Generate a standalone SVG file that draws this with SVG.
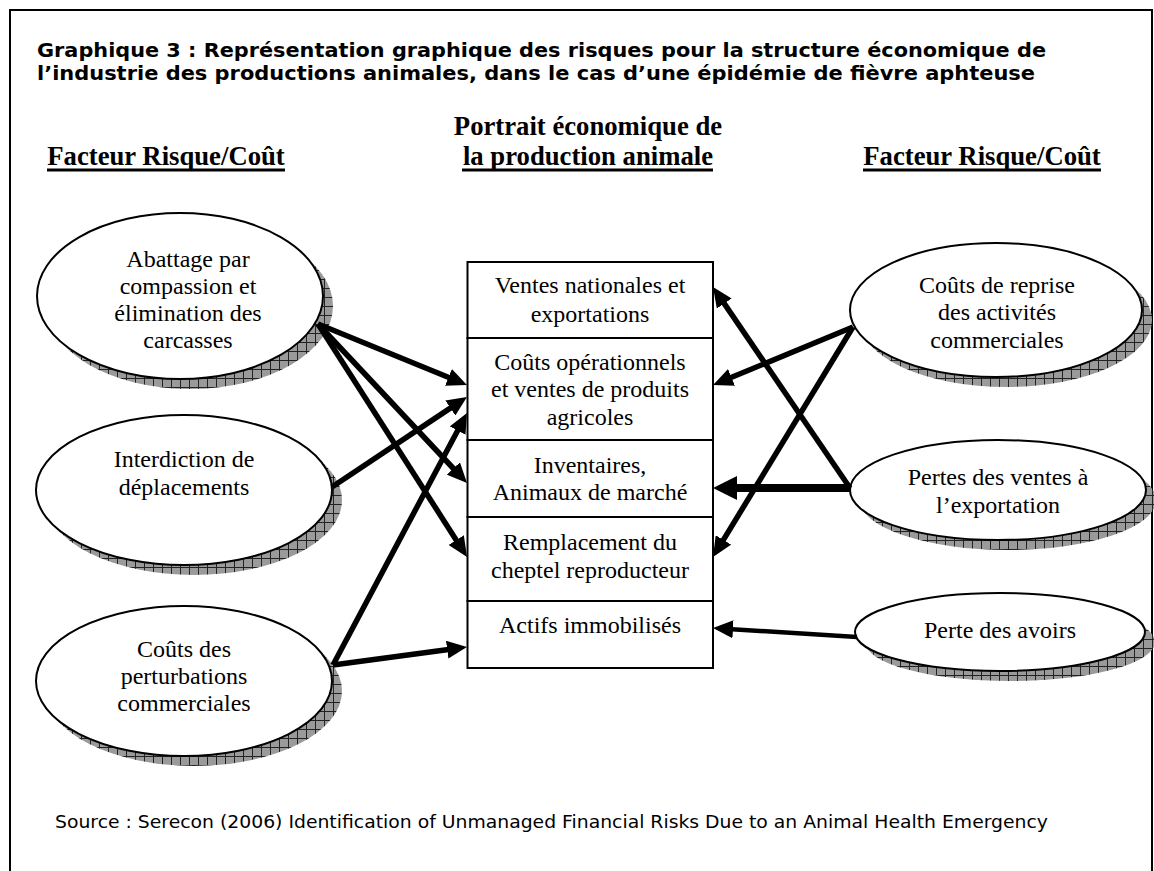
<svg xmlns="http://www.w3.org/2000/svg" width="1154" height="871" viewBox="0 0 1154 871">
<style>
.title{font-family:"DejaVu Sans","Verdana",sans-serif;font-weight:bold;font-size:19.5px;fill:#000}
.src{font-family:"DejaVu Sans","Verdana",sans-serif;font-size:17px;fill:#000}
.hdr{font-family:"Liberation Serif","Times New Roman",serif;font-weight:bold;font-size:26.7px;fill:#000;text-anchor:middle}
.lbl{font-family:"Liberation Serif","Times New Roman",serif;font-size:24px;fill:#000;text-anchor:middle}
.ell{fill:#fff;stroke:#000;stroke-width:2}
.shd{fill:url(#hatch);stroke:none}
.box{fill:#fff;stroke:#000;stroke-width:2}
.ul{stroke:#000;stroke-width:3}
.con{stroke:#000;stroke-width:5.5;fill:none;marker-end:url(#ah)}
.thick{stroke-width:8;marker-end:url(#ahL)}
.thin{stroke-width:4.5}
</style>
<defs>
<pattern id="hatch" width="9" height="9" patternUnits="userSpaceOnUse">
<rect width="9" height="9" fill="#9a9a9a"/>
<path d="M0,0.5H9M0.5,0V9" stroke="#222" stroke-width="1"/>
</pattern>
<marker id="ah" markerUnits="userSpaceOnUse" markerWidth="22" markerHeight="18" refX="9" refY="9" orient="auto" viewBox="0 0 22 18">
<path d="M0,0 L20,9 L0,18 z" fill="#000"/>
</marker>
<marker id="ahL" markerUnits="userSpaceOnUse" markerWidth="26" markerHeight="24" refX="12" refY="12" orient="auto" viewBox="0 0 26 24">
<path d="M0,0 L24,12 L0,24 z" fill="#000"/>
</marker>
</defs>

<rect width="1154" height="871" fill="#fff"/>
<path d="M10,880 V10 H1152 V880" fill="none" stroke="#000" stroke-width="2"/>

<g id="title">
<text class="title" x="37" y="57" textLength="1009" lengthAdjust="spacingAndGlyphs">Graphique 3 : Représentation graphique des risques pour la structure économique de</text>
<text class="title" x="37" y="80" textLength="998" lengthAdjust="spacingAndGlyphs">l’industrie des productions animales, dans le cas d’une épidémie de fièvre aphteuse</text>
</g>

<g id="headers">
<text class="hdr" x="166" y="165">Facteur Risque/Coût</text>
<line class="ul" x1="47" y1="170" x2="285" y2="170"/>
<text class="hdr" x="588" y="135">Portrait économique de</text>
<text class="hdr" x="588" y="165">la production animale</text>
<line class="ul" x1="462" y1="170" x2="713" y2="170"/>
<text class="hdr" x="982" y="165">Facteur Risque/Coût</text>
<line class="ul" x1="863" y1="170" x2="1101" y2="170"/>
</g>

<g id="node-abattage">
<ellipse class="shd" cx="190" cy="306" rx="143" ry="83"/>
<ellipse class="ell" cx="180" cy="296" rx="143" ry="83"/>
<text class="lbl" x="188" y="267">Abattage par</text>
<text class="lbl" x="188" y="294">compassion et</text>
<text class="lbl" x="188" y="321">élimination des</text>
<text class="lbl" x="188" y="348">carcasses</text>
</g>

<g id="node-interdiction">
<ellipse class="shd" cx="194" cy="500" rx="148" ry="75"/>
<ellipse class="ell" cx="184" cy="490" rx="148" ry="75"/>
<text class="lbl" x="184" y="467">Interdiction de</text>
<text class="lbl" x="184" y="495">déplacements</text>
</g>

<g id="node-perturbations">
<ellipse class="shd" cx="194" cy="691" rx="148" ry="75"/>
<ellipse class="ell" cx="184" cy="681" rx="148" ry="75"/>
<text class="lbl" x="184" y="657">Coûts des</text>
<text class="lbl" x="184" y="684">perturbations</text>
<text class="lbl" x="184" y="711">commerciales</text>
</g>

<g id="node-reprise">
<ellipse class="shd" cx="1006" cy="320" rx="146" ry="67"/>
<ellipse class="ell" cx="996" cy="310" rx="146" ry="67"/>
<text class="lbl" x="997" y="293">Coûts de reprise</text>
<text class="lbl" x="997" y="320">des activités</text>
<text class="lbl" x="997" y="348">commerciales</text>
</g>

<g id="node-pertes-ventes">
<ellipse class="shd" cx="1008" cy="500" rx="148" ry="50"/>
<ellipse class="ell" cx="998" cy="490" rx="148" ry="50"/>
<text class="lbl" x="998" y="485">Pertes des ventes à</text>
<text class="lbl" x="998" y="513">l’exportation</text>
</g>

<g id="node-avoirs">
<ellipse class="shd" cx="1010" cy="642" rx="145" ry="39"/>
<ellipse class="ell" cx="1000" cy="632" rx="145" ry="39"/>
<text class="lbl" x="1000" y="638">Perte des avoirs</text>
</g>

<g id="node-portrait">
<rect class="box" x="467.5" y="262" width="245.5" height="76"/>
<text class="lbl" x="590" y="293">Ventes nationales et</text>
<text class="lbl" x="590" y="322">exportations</text>
<rect class="box" x="467.5" y="338" width="245.5" height="102"/>
<text class="lbl" x="590" y="370">Coûts opérationnels</text>
<text class="lbl" x="590" y="397">et ventes de produits</text>
<text class="lbl" x="590" y="425">agricoles</text>
<rect class="box" x="467.5" y="440" width="245.5" height="77"/>
<text class="lbl" x="590" y="473">Inventaires,</text>
<text class="lbl" x="590" y="500">Animaux de marché</text>
<rect class="box" x="467.5" y="517" width="245.5" height="84"/>
<text class="lbl" x="590" y="550">Remplacement du</text>
<text class="lbl" x="590" y="578">cheptel reproducteur</text>
<rect class="box" x="467.5" y="601" width="245.5" height="67"/>
<text class="lbl" x="590" y="633">Actifs immobilisés</text>
</g>

<g id="connectors">
<line class="con" x1="318" y1="324" x2="456.8" y2="380.8"/>
<line class="con" x1="318" y1="324" x2="459.5" y2="475.0"/>
<line class="con" x1="318" y1="324" x2="461.1" y2="547.7"/>
<line class="con" x1="332" y1="487" x2="457.8" y2="403.1"/>
<line class="con" x1="333" y1="665" x2="461.8" y2="422.7"/>
<line class="con" x1="333" y1="665" x2="456.1" y2="648.5"/>
<line class="con" x1="853" y1="327" x2="723.2" y2="380.8"/>
<line class="con" x1="853" y1="327" x2="718.7" y2="547.6"/>
<line class="con" x1="850" y1="488" x2="719.2" y2="296.1"/>
<line class="con thick" x1="850" y1="488" x2="725" y2="488"/>
<line class="con thin" x1="857" y1="637" x2="724" y2="628.7"/>
</g>

<g id="source">
<text class="src" x="55" y="828" textLength="993" lengthAdjust="spacingAndGlyphs">Source : Serecon (2006) Identification of Unmanaged Financial Risks Due to an Animal Health Emergency</text>
</g>
</svg>
